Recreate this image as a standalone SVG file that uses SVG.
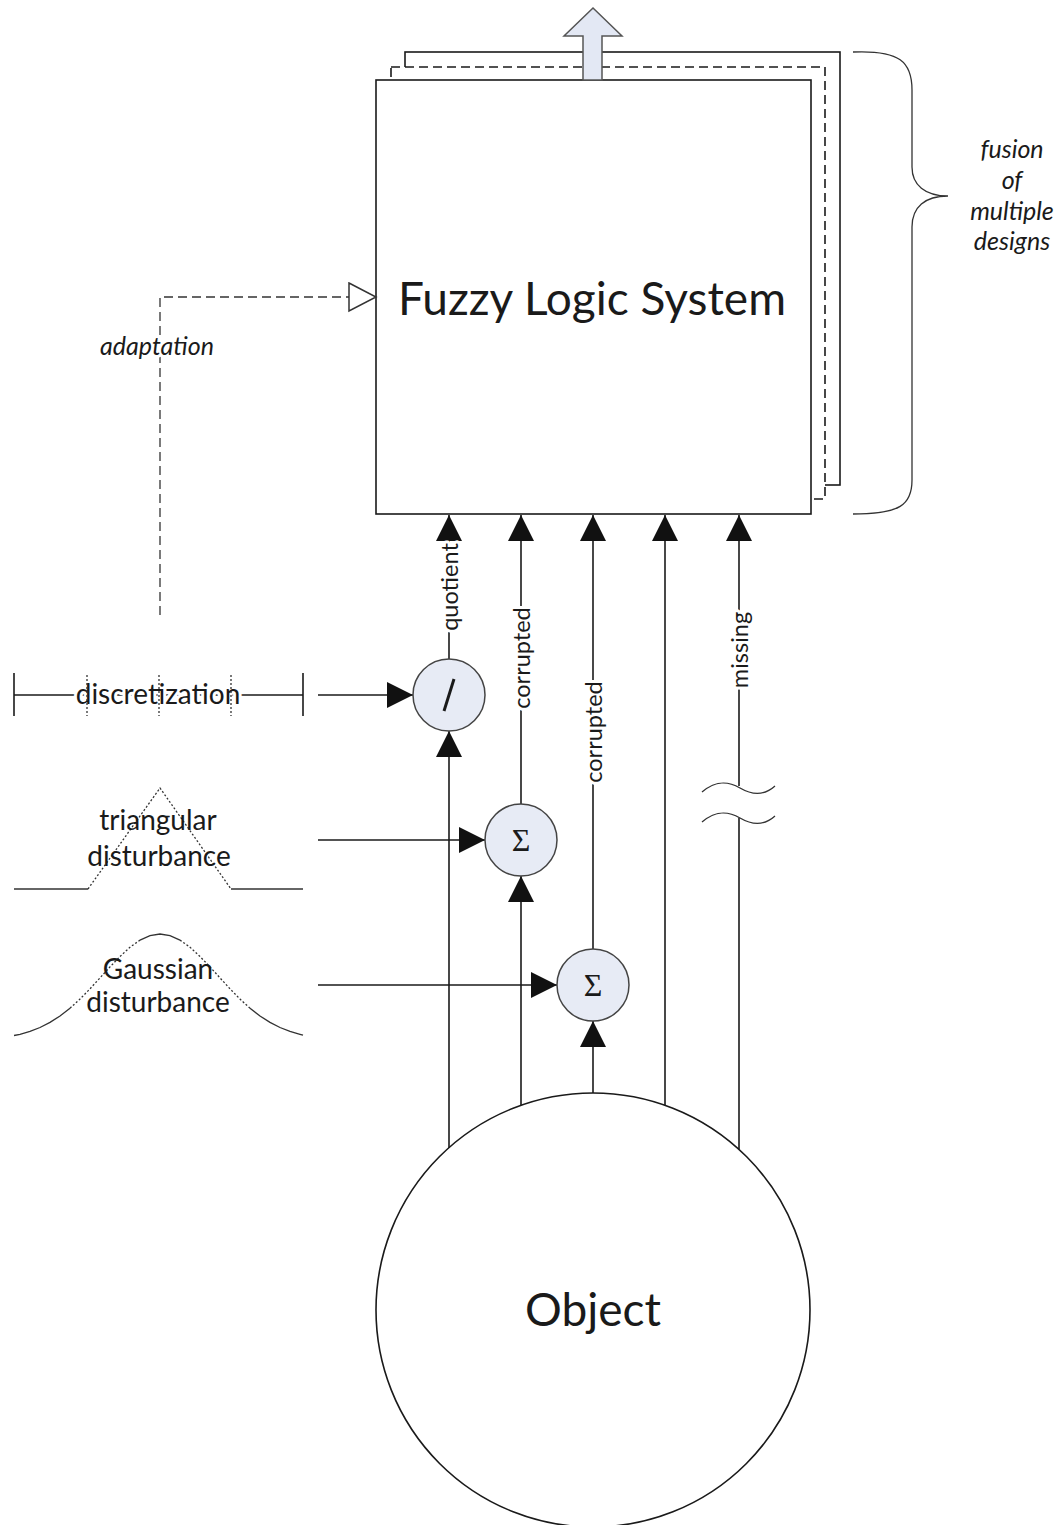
<svg xmlns="http://www.w3.org/2000/svg" width="1063" height="1525" viewBox="0 0 1063 1525">
<defs>
<marker id="ah" markerUnits="userSpaceOnUse" markerWidth="26" markerHeight="26" viewBox="0 0 26 26" refX="26" refY="13" orient="auto">
<path d="M0,0 L26,13 L0,26 z" fill="#111"/>
</marker>
<marker id="open" markerUnits="userSpaceOnUse" markerWidth="30" markerHeight="32" viewBox="-1 -1 30 32" refX="27" refY="14" orient="auto">
<path d="M0,0 L27,14 L0,28 z" fill="#fff" stroke="#333" stroke-width="1.5"/>
</marker>
<style>
.ln{stroke:#1a1a1a;stroke-width:1.6;fill:none}
.thin{stroke:#333;stroke-width:1.3;fill:none}
.dot{stroke:#333;stroke-width:1.3;fill:none;stroke-dasharray:2 2}
.box{fill:#fff;stroke:#1a1a1a;stroke-width:1.6}
.op{fill:#e7ebf5;stroke:#444;stroke-width:1.5}
.t{font-family:Lato,"Liberation Sans",sans-serif;fill:#1a1a1a;text-anchor:middle}
.halo{paint-order:stroke;stroke:#fff;stroke-width:6;stroke-linejoin:round}
.rot{font-size:23.5px;dominant-baseline:central}
.lab{font-size:28px}
.it{font-style:italic;font-size:25px}
.big{font-size:46px}
.sym{font-family:"Liberation Serif","DejaVu Serif",serif;fill:#1a1a1a;text-anchor:middle}
</style>
</defs>

<g id="fls-stack">
<rect class="box" x="405" y="52" width="435" height="433"/>
<rect class="box" x="391" y="67" width="434" height="432" stroke-dasharray="9 5"/>
</g>
<g id="fuzzy-logic-system">
<rect class="box" x="376" y="80" width="435" height="434"/>
<text class="t big" x="592" y="315">Fuzzy Logic System</text>
</g>
<g id="output-arrow">
<polygon points="583,80 583,36 564,36 593,8 622,36 602,36 602,80" fill="#e3e8f4" stroke="#555" stroke-width="1.5"/>
</g>

<g id="fusion-brace">
<path class="thin" d="M853,52 C900,50 912,62 912,90 L912,167 C912,185 925,196 948,196 C925,196 912,207 912,227 L912,480 C912,505 900,514 853,514"/>
<text class="t it" x="1012" y="158">fusion</text>
<text class="t it" x="1012" y="189">of</text>
<text class="t it" x="1012" y="220">multiple</text>
<text class="t it" x="1012" y="250">designs</text>
</g>

<g id="object">
<circle cx="593" cy="1310" r="217" fill="#fff" stroke="#1a1a1a" stroke-width="1.6"/>
<text class="t big" x="593" y="1326">Object</text>
</g>

<g id="connectors">
<path class="thin" d="M160,615 L160,297 L376,297" stroke-dasharray="9 5" marker-end="url(#open)"/>
<line class="ln" x1="449" y1="1148" x2="449" y2="731" marker-end="url(#ah)"/>
<line class="ln" x1="521" y1="1105" x2="521" y2="876" marker-end="url(#ah)"/>
<line class="ln" x1="593" y1="1093" x2="593" y2="1021" marker-end="url(#ah)"/>
<line class="ln" x1="665" y1="1105" x2="665" y2="515" marker-end="url(#ah)" stroke="#555"/>
<line class="ln" x1="739" y1="1149" x2="739" y2="818"/>
<line class="ln" x1="739" y1="786" x2="739" y2="515" marker-end="url(#ah)"/>
<line class="ln" x1="449" y1="659" x2="449" y2="515" marker-end="url(#ah)"/>
<line class="ln" x1="521" y1="804" x2="521" y2="515" marker-end="url(#ah)"/>
<line class="ln" x1="593" y1="949" x2="593" y2="515" marker-end="url(#ah)"/>
<line class="ln" x1="318" y1="695" x2="413" y2="695" marker-end="url(#ah)"/>
<line class="ln" x1="318" y1="840" x2="485" y2="840" marker-end="url(#ah)"/>
<line class="ln" x1="318" y1="985" x2="557" y2="985" marker-end="url(#ah)"/>
<path class="thin" d="M702,792 C716,780 728,781 740,788 C752,795 764,796 775,786"/>
<path class="thin" d="M702,822 C716,810 728,811 740,818 C752,825 764,826 775,816"/>
<text class="t rot halo" transform="translate(449,587) rotate(-90)">quotient</text>
<text class="t rot halo" transform="translate(521,658) rotate(-90)">corrupted</text>
<text class="t rot halo" transform="translate(593,732) rotate(-90)">corrupted</text>
<text class="t rot halo" transform="translate(739,650) rotate(-90)">missing</text>
<text class="t it halo" x="157" y="355">adaptation</text>
</g>

<g id="divide">
<circle class="op" cx="449" cy="695" r="36"/>
<line x1="454" y1="679" x2="444" y2="711" stroke="#1a1a1a" stroke-width="3"/>
</g>
<g id="sum1">
<circle class="op" cx="521" cy="840" r="36"/>
<text class="sym" x="521" y="851" font-size="32">Σ</text>
</g>
<g id="sum2">
<circle class="op" cx="593" cy="985" r="36"/>
<text class="sym" x="593" y="996" font-size="32">Σ</text>
</g>

<g id="discretization">
<line class="ln" x1="14" y1="695" x2="303" y2="695"/>
<line class="ln" x1="14" y1="673" x2="14" y2="716"/>
<line class="ln" x1="303" y1="673" x2="303" y2="716"/>
<text class="t lab halo" x="158" y="704">discretization</text>
<line class="dot" x1="87" y1="675" x2="87" y2="716"/>
<line class="dot" x1="159" y1="675" x2="159" y2="716"/>
<line class="dot" x1="231" y1="675" x2="231" y2="716"/>
</g>

<g id="triangular-disturbance">
<polyline class="thin" points="14,889 88,889"/>
<polyline class="dot" points="88,889 160,788 231,889"/>
<polyline class="thin" points="231,889 303,889"/>
<text class="t lab" x="158" y="830">triangular</text>
<text class="t lab" x="159" y="866">disturbance</text>
</g>

<g id="gaussian-disturbance">
<polyline class="thin" points="14,1035.5 20,1034.3 30,1031.4 40,1027.5 50,1022.4 60,1016 70,1008.2"/>
<polyline class="dot" points="70,1008.2 80,999.1 90,988.8 100,977.9 110,966.9 120,956.5 130,947.2 140,940.1"/>
<polyline class="thin" points="140,940.1 150,935.6 160,934 170,935.6 180,940.1"/>
<polyline class="dot" points="180,940.1 190,947.2 200,956.5 210,966.9 220,977.9 230,988.8 240,999.1 250,1008.2"/>
<polyline class="thin" points="250,1008.2 260,1016 270,1022.4 280,1027.5 290,1031.4 300,1034.3 303,1035.2"/>
<text class="t lab" x="158" y="979">Gaussian</text>
<text class="t lab" x="158" y="1012">disturbance</text>
</g>
</svg>
